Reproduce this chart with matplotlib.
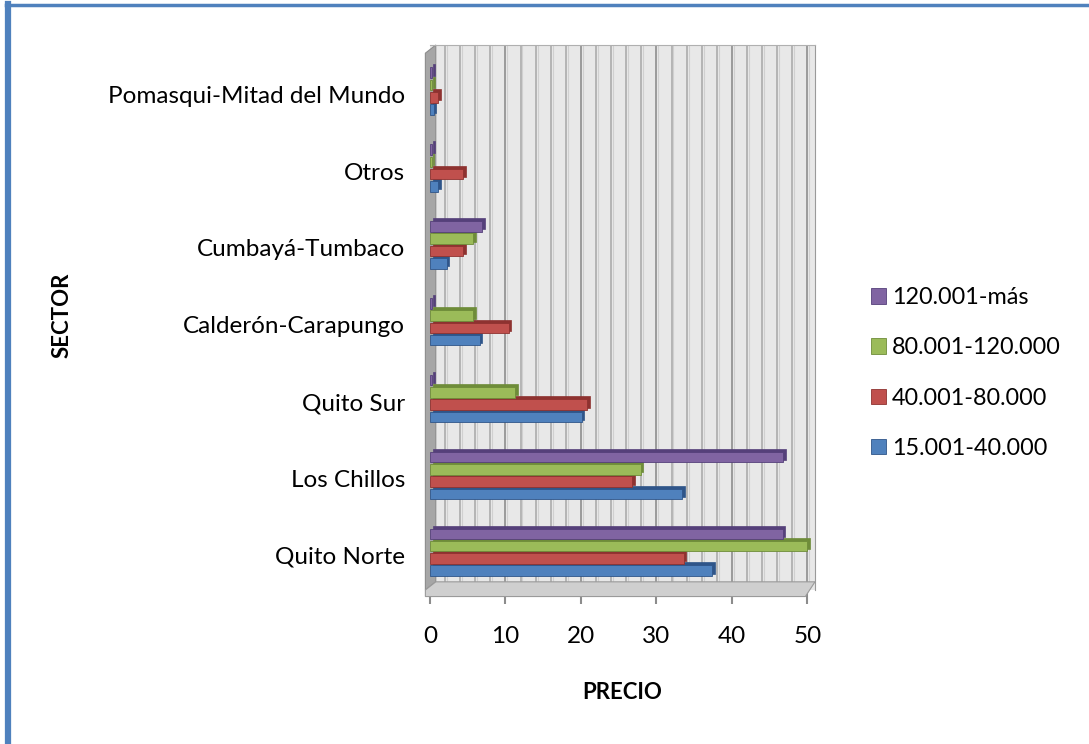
import matplotlib.pyplot as plt
import numpy as np
from matplotlib.patches import Polygon

plt.rcParams['font.family'] = ['Lato', 'DejaVu Sans']

# sectores, de abajo hacia arriba
sectores = ['Quito Norte', 'Los Chillos', 'Quito Sur', 'Calderón-Carapungo',
            'Cumbayá-Tumbaco', 'Otros', 'Pomasqui-Mitad del Mundo']

rangos = ['15.001-40.000', '40.001-80.000', '80.001-120.000', '120.001-más']

p15_40 = [37.4, 33.4, 20.1, 6.6, 2.2, 1.1, 0.5]
p40_80 = [33.6, 26.8, 20.8, 10.4, 4.4, 4.4, 1.1]
p80_120 = [50.0, 27.9, 11.3, 5.7, 5.7, 0.2, 0.3]
p120_mas = [46.7, 46.8, 0.3, 0.3, 6.9, 0.3, 0.3]

colores = ['#4F81BD', '#C0504D', '#9BBB59', '#8064A2']
sombras = ['#2F5589', '#8E3230', '#6E8C39', '#55407A']

series = [p15_40, p40_80, p80_120, p120_mas]

fig = plt.figure(figsize=(10.89, 7.44), dpi=100)
ax = fig.add_axes([430 / 1089, 1 - 590 / 744, 385 / 1089, 545 / 744])

y = np.arange(len(sectores))
h = 0.16
base = 0.04

ax.set_facecolor('#E8E8E8')
ax.set_xlim(0, 51)
ax.set_ylim(-0.45, 6.64)

# rejilla vertical cada 2 unidades
for xv in np.arange(2, 52, 2):
    col = '#9A9A9A' if xv % 10 == 0 else '#B4B4B4'
    ax.axvline(xv, color=col, lw=1.4, zorder=1)
    ax.axvline(xv + 0.25, color='#D0D0D0', lw=0.8, zorder=1)

bar_list = []
for i, (vals, c, s) in enumerate(zip(series, colores, sombras)):
    pos = y + base + (i - 1.5) * h
    # cara superior / lateral del efecto 3D
    ax.barh(pos + 0.035, vals, height=h * 0.92, left=0.35, color=s,
            edgecolor=s, lw=0.5, zorder=3 + i * 2)
    b = ax.barh(pos, vals, height=h * 0.86, color=c, edgecolor=s,
                lw=0.6, zorder=4 + i * 2, label=rangos[i])
    bar_list.append(b)

# pared lateral y suelo
wall = Polygon([[-0.012, 0.0], [-0.012, 0.985], [0.015, 1.0], [0.015, 0.015]],
               closed=True, transform=ax.transAxes, facecolor='#A6A6A6',
               edgecolor='#8C8C8C', lw=0.8, clip_on=False, zorder=2)
ax.add_patch(wall)
floor = Polygon([[-0.012, 0.0], [0.015, 0.015], [1.0, 0.015], [0.975, -0.012],
                 [-0.012, -0.012]], closed=True, transform=ax.transAxes,
                facecolor='#CFCFCF', edgecolor='#9A9A9A', lw=0.8,
                clip_on=False, zorder=2)
ax.add_patch(floor)

for sp in ['top', 'right', 'bottom', 'left']:
    ax.spines[sp].set_visible(False)
ax.spines['right'].set_visible(True)
ax.spines['right'].set_color('#9A9A9A')
ax.spines['top'].set_visible(True)
ax.spines['top'].set_color('#B0B0B0')

ax.set_yticks(y)
ax.set_yticklabels(sectores, fontsize=17.5)
ax.tick_params(axis='y', length=0, pad=18)

ax.set_xticks(np.arange(0, 51, 10))
ax.set_xticklabels([str(v) for v in range(0, 51, 10)], fontsize=17.5)
ax.tick_params(axis='x', length=10, width=1.5, color='#8C8C8C',
               direction='out', pad=16)

ax.set_xlabel('PRECIO', fontsize=16, fontweight='bold', labelpad=25)
fig.text(62 / 1089, 1 - 315 / 744, 'SECTOR', rotation=90, fontsize=16,
         fontweight='bold', ha='center', va='center')

handles = bar_list[::-1]
leg = fig.legend(handles, rangos[::-1], loc='center left',
                 bbox_to_anchor=(850 / 1089, 1 - 373 / 744), frameon=False,
                 fontsize=16.8, handlelength=0.65, handleheight=0.65,
                 handletextpad=0.25, labelspacing=1.25)

# marco azul del grafico
fig.add_artist(plt.Line2D([8 / 1089, 8 / 1089], [0, 1 - 4 / 744],
                          color='#4F81BD', lw=4.5))
fig.add_artist(plt.Line2D([6 / 1089, 1], [1 - 4.5 / 744, 1 - 4.5 / 744],
                          color='#4F81BD', lw=2.5))

fig.savefig('out.png', dpi=100)
